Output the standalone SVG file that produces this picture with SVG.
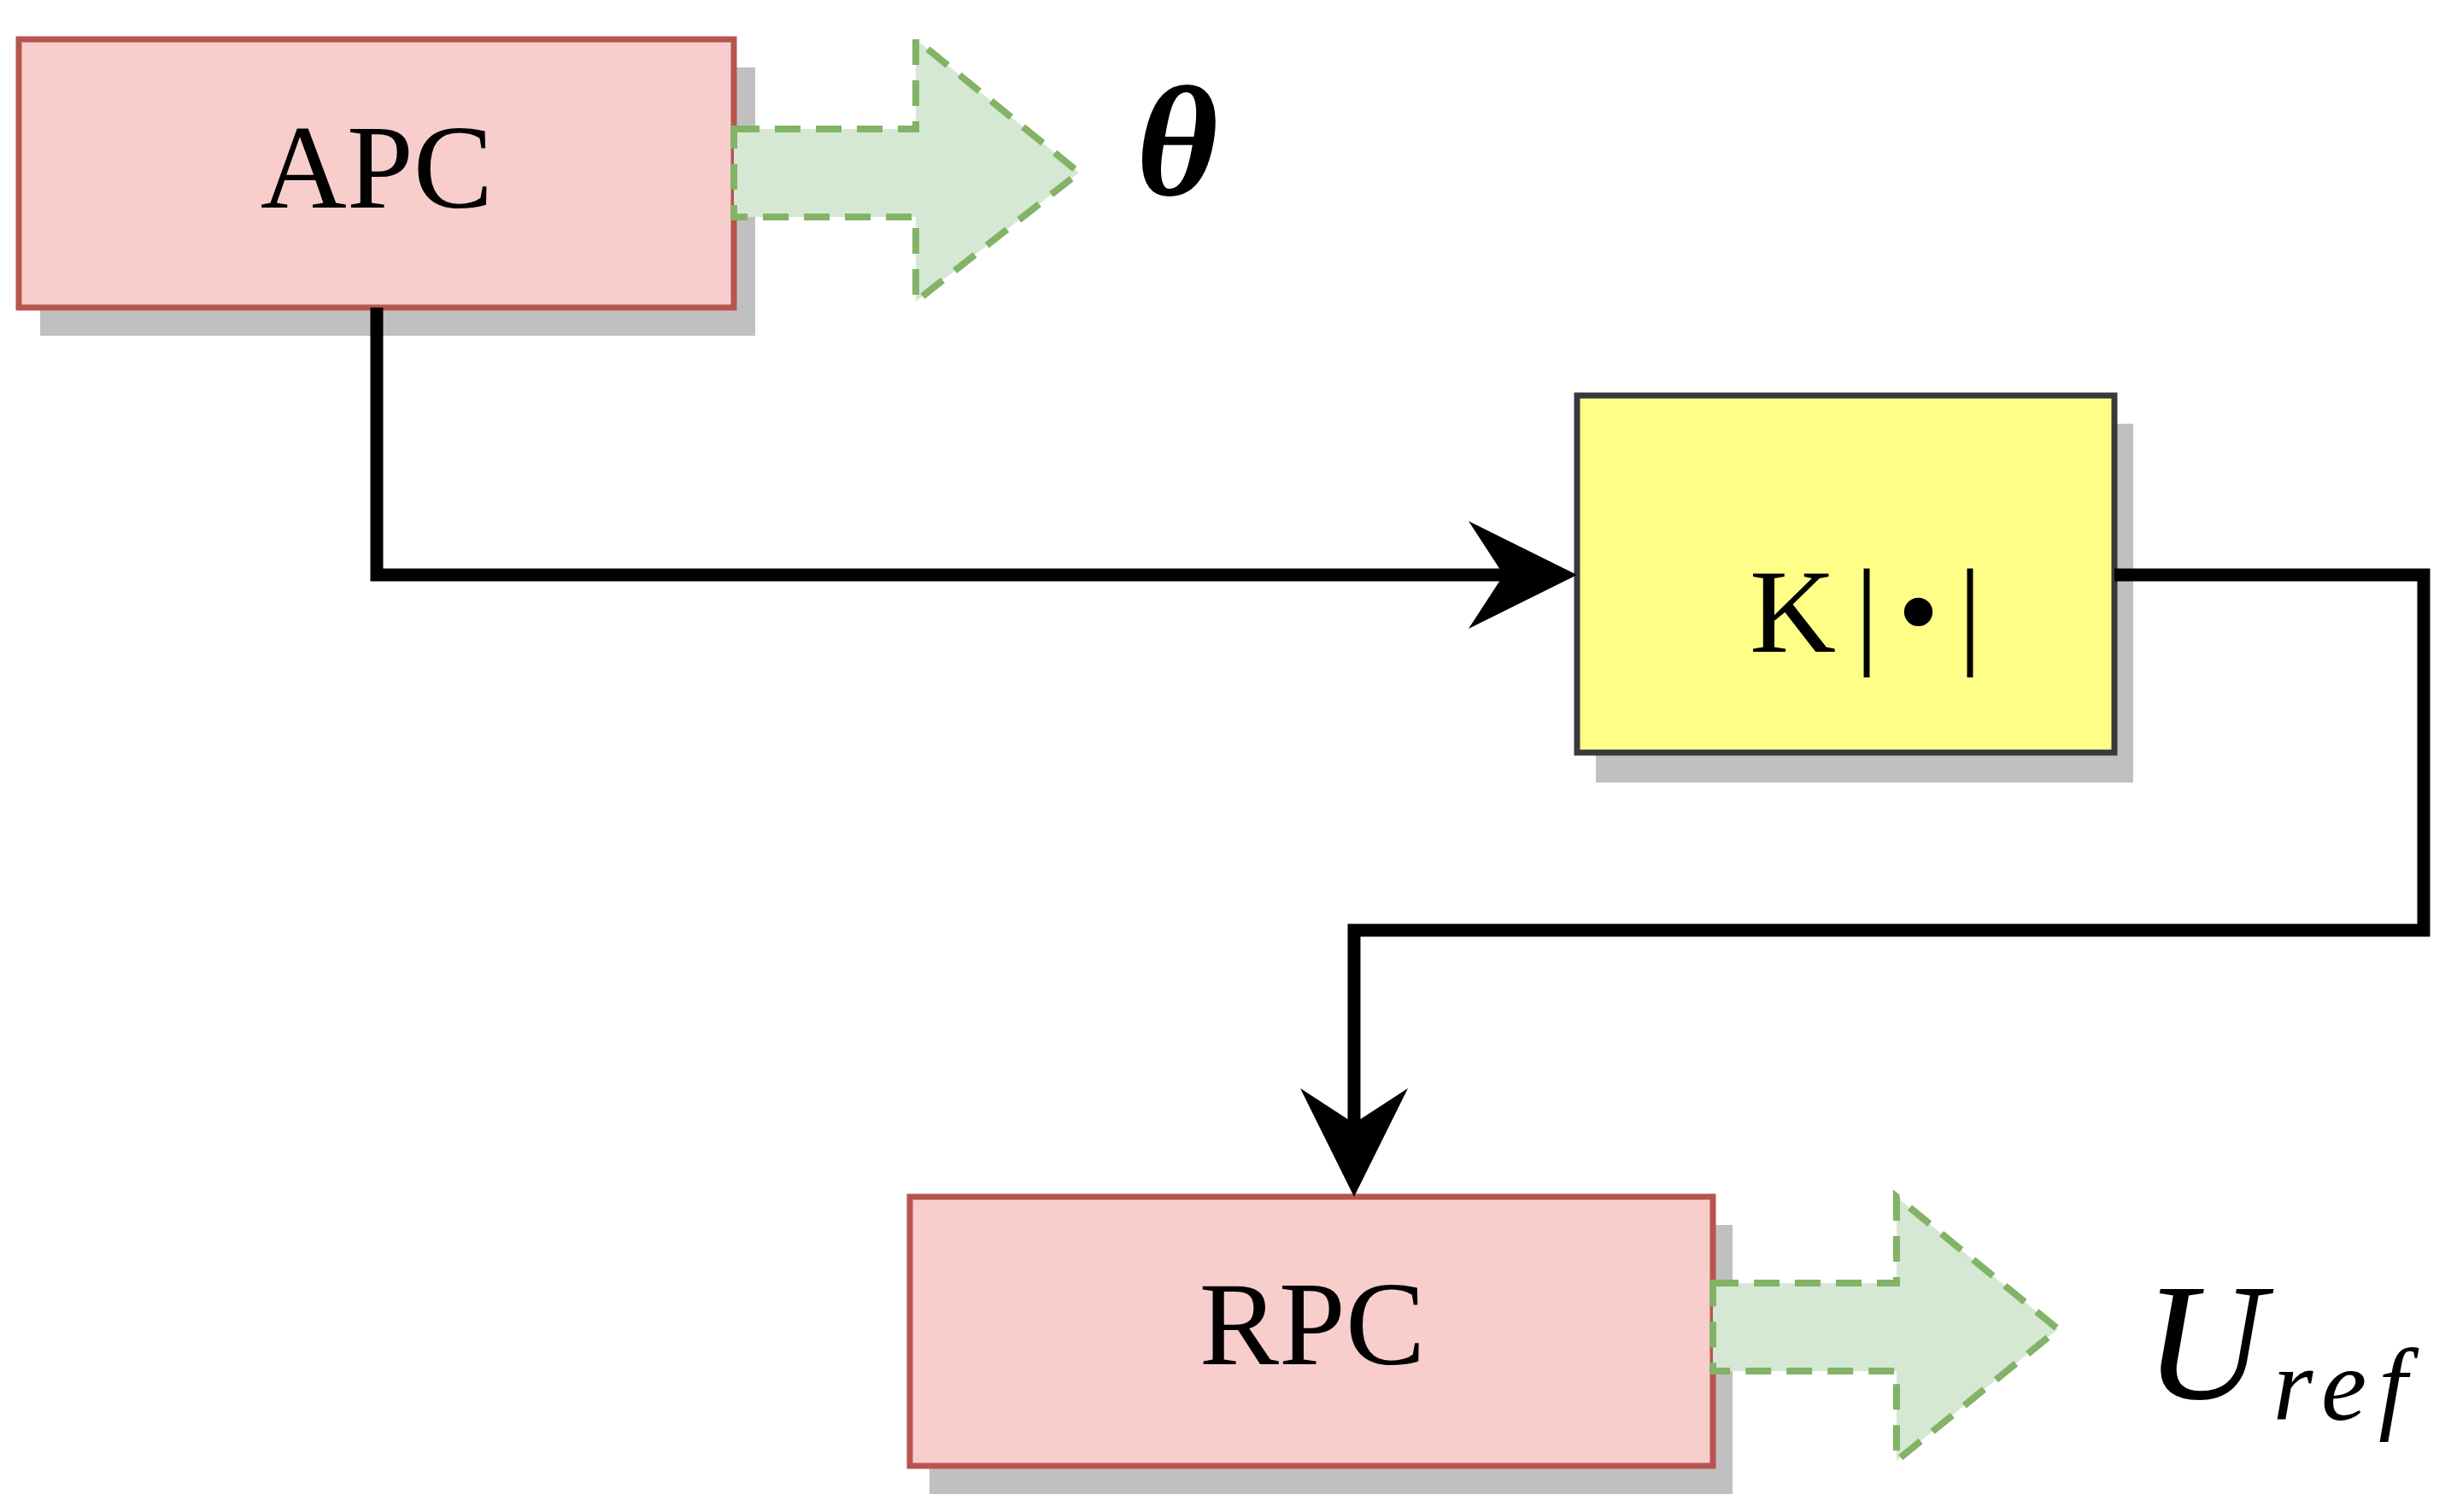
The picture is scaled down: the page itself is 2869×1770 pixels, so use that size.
<svg xmlns="http://www.w3.org/2000/svg" width="2869" height="1770" viewBox="0 0 2869 1770">
<style>
.sh{fill:#c0c0c0}
.red{fill:#f8cecc;stroke:#b85450;stroke-width:7}
.yel{fill:#ffff88;stroke:#36393d;stroke-width:7}
.big{fill:#d5e8d4;stroke:#82b366;stroke-width:8;stroke-dasharray:30 18}
.t{font-family:"Liberation Serif",serif;font-size:140px;text-anchor:middle}
.m{font-family:"Liberation Serif",serif;font-style:italic}
.ln{fill:none;stroke:#000;stroke-width:15}
</style>
<defs>
<marker id="ah" markerUnits="userSpaceOnUse" markerWidth="140" markerHeight="140" refX="107" refY="63" orient="auto">
<path d="M127,63 L0,0 L41,63 L0,126 Z" fill="#000"/>
</marker>
</defs>
<g id="apc">
<rect class="sh" x="47" y="79" width="837" height="314"/>
<rect class="red" x="22" y="46" width="837" height="314"/>
<text class="t" x="441" y="243">APC</text>
</g>
<g id="apc-out">
<path class="big" d="M859,151 H1072 V46 L1263,202 L1072,353 V254 H859 Z"/>
<text class="m" x="1330" y="228" font-size="185" font-weight="bold">θ</text>
</g>
<g id="k">
<rect class="sh" x="1868" y="496" width="629" height="420"/>
<rect class="yel" x="1846" y="463" width="629" height="418"/>
<text class="t" x="2195" y="763" font-size="160" letter-spacing="22">K|•|</text>
</g>
<g id="rpc">
<rect class="sh" x="1088" y="1434" width="940" height="315"/>
<rect class="red" x="1065" y="1401" width="940" height="315"/>
<text class="t" x="1536" y="1597">RPC</text>
</g>
<g id="rpc-out">
<path class="big" d="M2005,1502 H2220 V1401 L2409,1556 L2220,1710 V1605 H2005 Z"/>
<text class="m" x="2510" y="1637" font-size="195">U<tspan font-size="120" dy="25" dx="10" letter-spacing="14">ref</tspan></text>
</g>
<g id="connectors">
<path class="ln" d="M441,360 V673 H1826" marker-end="url(#ah)"/>
<path class="ln" d="M2475,673 H2837 V1089 H1585 V1381" marker-end="url(#ah)"/>
</g>
</svg>
